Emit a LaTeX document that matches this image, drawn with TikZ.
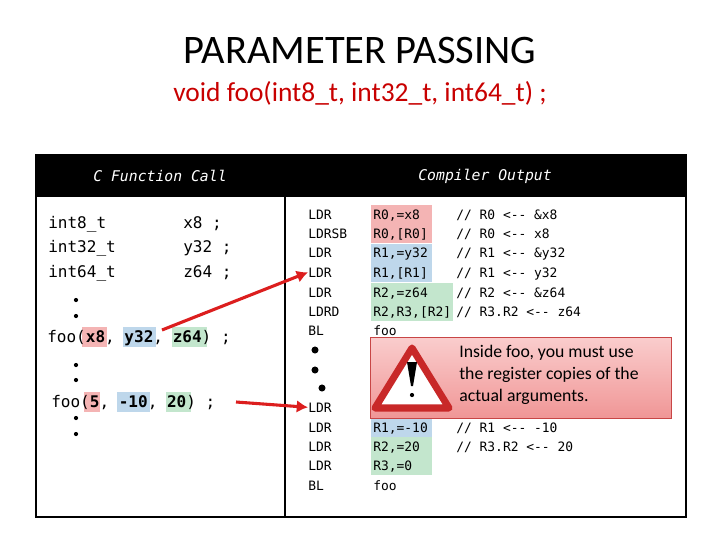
\documentclass[tikz,border=0pt]{standalone}
\usepackage{fontspec}
\setmainfont{Carlito}
\setmonofont{DejaVu Sans Mono}
\usetikzlibrary{arrows.meta}
\definecolor{hr}{RGB}{244,180,180}
\definecolor{hb}{RGB}{190,215,235}
\definecolor{hg}{RGB}{195,230,205}
\definecolor{tred}{RGB}{200,0,0}
\definecolor{arred}{RGB}{220,30,30}
\definecolor{cbord}{RGB}{200,70,70}
\definecolor{ctop}{RGB}{250,205,205}
\definecolor{cbot}{RGB}{240,150,150}
\definecolor{tri}{RGB}{200,40,40}
\begin{document}
\begin{tikzpicture}[x=0.025cm,y=-0.025cm,
  lt/.style={anchor=base west,inner sep=0pt,font=\fontsize{11.4}{12}\ttfamily},
  rt/.style={anchor=base west,inner sep=0pt,font=\fontsize{9.2}{10}\ttfamily},
  hd/.style={font=\fontsize{10.5}{12}\ttfamily\itshape,text=white},
  dot/.style={circle,fill=black,inner sep=0pt,minimum size=#1},
  arr/.style={draw=arred,line width=2.2pt,-{Latex[length=8pt,width=9pt]}}]
\useasboundingbox (0,0) rectangle (720,540);
\node (title) at (360,50) {\fontsize{28.8}{32}\selectfont PARAMETER PASSING};
\node[text=tred] (sub) at (360,93) {\fontsize{19.5}{22}\selectfont void foo(int8\_t, int32\_t, int64\_t) ;};
% table
\fill[black] (36,155) rectangle (686,197);
\draw[line width=1.2pt] (36,155) rectangle (686,517);
\draw[line width=1.2pt] (285,155) -- (285,517);
\node[hd] (h1) at (160,176) {C Function Call};
\node[hd] (h2) at (485,176) {Compiler Output};
% highlights right
\fill[hr] (371,205) rectangle (432,243);
\fill[hb] (371,244) rectangle (432,282);
\fill[hg] (371,283) rectangle (453,321);
\fill[hb] (371,417) rectangle (432,437);
\fill[hg] (371,437) rectangle (432,475);
% highlights left
\fill[hr] (82,327) rectangle (107,347);
\fill[hb] (123,327) rectangle (156,347);
\fill[hg] (172,327) rectangle (207,347);
\fill[hr] (84,392) rectangle (100,412);
\fill[hb] (117,392) rectangle (150,412);
\fill[hg] (166,392) rectangle (191,412);
% left code
\node[lt] (l1) at (48,228) {int8\_t};
\node[lt] (l2) at (48,252) {int32\_t};
\node[lt] (l3) at (48,277) {int64\_t};
\node[lt] (r1) at (183,228) {x8 ;};
\node[lt] (r2) at (183,252) {y32 ;};
\node[lt] (r3) at (183,277) {z64 ;};
\node[lt] (call1) at (47,342) {foo(\textbf{x8}, \textbf{y32}, \textbf{z64}) ;};
\node[lt] (call2) at (51,407) {foo(\textbf{5}, \textbf{-10}, \textbf{20}) ;};
\foreach \yy [count=\i] in {300,316,365,380,418,434}
  \node[dot=3pt] (ld\i) at (76,\yy) {};
% right code
\foreach \a/\b/\c/\yy [count=\i] in {
  LDR/{R0,=x8}/{// R0 <-- \&x8}/219,
  LDRSB/{R0,[R0]}/{// R0 <-- x8}/238,
  LDR/{R1,=y32}/{// R1 <-- \&y32}/257,
  LDR/{R1,[R1]}/{// R1 <-- y32}/277,
  LDR/{R2,=z64}/{// R2 <-- \&z64}/297,
  LDRD/{R2,R3,[R2]}/{// R3.R2 <-- z64}/316,
  BL/{foo}/{}/335,
  LDR/{}/{}/412,
  LDR/{R1,=-10}/{// R1 <-- -10}/432,
  LDR/{R2,=20}/{// R3.R2 <-- 20}/451,
  LDR/{R3,=0}/{}/470,
  BL/{foo}/{}/490}{
  \node[rt] (op\i) at (308,\yy) {\a};
  \node[rt] (ar\i) at (373,\yy) {\b};
  \node[rt] (cm\i) at (456,\yy) {\c};
}
\node[dot=5pt] (rd1) at (315,350) {};
\node[dot=5pt] (rd2) at (315,370) {};
\node[dot=5pt] (rd3) at (322,388) {};
% callout
\shade[top color=ctop,bottom color=cbot] (370,337) rectangle (671,418);
\draw[cbord,line width=0.6pt] (370,337) rectangle (671,418);
\draw[line width=5pt,line join=round,draw=tri,fill=white]
  (412,348) -- (449,408) -- (375,408) -- cycle;
\fill (412,362) -- (417,362) -- (413,386) -- (411,386) -- (407,362) -- cycle;
\fill (412,395) circle (1.5pt);
\node[align=left,anchor=north west,inner sep=0pt,font=\fontsize{12.6}{15.5}\selectfont] (warn) at (459,345)
  {Inside foo, you must use\\the register copies of the\\actual arguments.};
% arrows
\coordinate (a1s) at (162,330);
\coordinate (a2s) at (236,402);
\draw[arr] (a1s) -- (op4.west);
\draw[arr] (a2s) -- (op8.west);
\end{tikzpicture}
\end{document}
